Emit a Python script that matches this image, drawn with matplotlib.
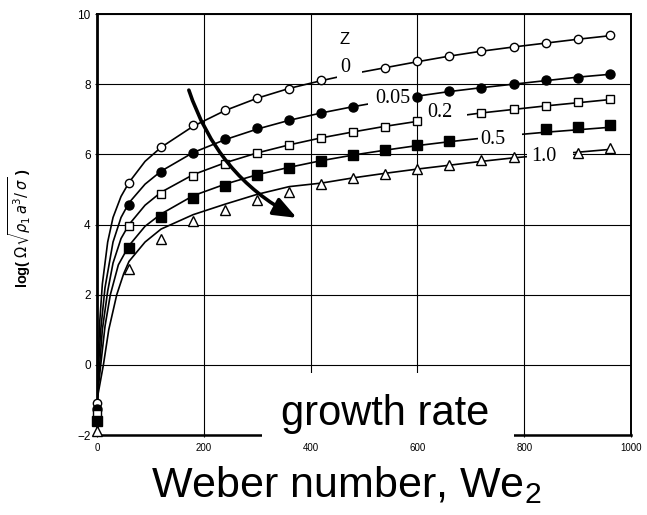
import numpy as np
import matplotlib
matplotlib.use("Agg")
import matplotlib.pyplot as plt
from matplotlib.patches import FancyArrowPatch, Rectangle

plt.rcParams['font.family'] = ['Liberation Sans', 'DejaVu Sans']
plt.rcParams['mathtext.fontset'] = 'custom'
plt.rcParams['mathtext.rm'] = 'Liberation Sans'
plt.rcParams['mathtext.it'] = 'Liberation Sans:italic'

nan = np.nan

# measured points (Weber number vs growth rate), nan = hidden behind a label
we_pts = [0, 60, 120, 180, 240, 300, 360, 420, 480, 540, 600, 660, 720, 780, 840, 900, 960]
z0_pts = [-1.1, 5.18, 6.21, 6.83, 7.26, 7.60, 7.87, 8.11, nan, 8.47, 8.66, 8.80, 8.95, 9.06, 9.17, 9.28, 9.40]
z005_pts = [-1.25, 4.56, 5.50, 6.03, 6.44, 6.75, 6.98, 7.18, 7.35, nan, 7.64, 7.81, 7.89, 8.00, 8.11, 8.17, 8.29]
z02_pts = [-1.4, 3.96, 4.87, 5.38, 5.73, 6.04, 6.27, 6.47, 6.64, 6.78, 6.95, nan, 7.18, 7.29, 7.38, 7.49, 7.57]
z05_pts = [-1.6, 3.33, 4.22, 4.75, 5.10, 5.41, 5.62, 5.81, 5.98, 6.12, 6.27, 6.38, nan, nan, 6.71, 6.78, 6.84]
z1_pts = [-1.88, 2.73, 3.58, 4.10, 4.41, 4.70, 4.93, 5.16, 5.32, 5.44, 5.58, 5.70, 5.83, 5.93, nan, 6.04, 6.18]

# theory curves
we_upper = [60, 90, 120, 180, 240, 300, 360, 420, 480, 540, 600, 660, 720, 780, 840, 900, 960]

z0_we = [0, 2, 5, 10, 20, 30, 45]
z0_low = [-1.0, 0.0, 1.2, 2.3, 3.5, 4.2, 4.8]
z0_up = [5.2, 5.8, 6.2, 6.8, 7.25, 7.6, 7.88, 8.1, 8.3, 8.47, 8.64, 8.8, 8.94, 9.06, 9.17, 9.28, 9.38]

z005_we = [0, 3, 7, 15, 30, 45]
z005_low = [-1.0, 0.0, 1.0, 2.2, 3.5, 4.2]
z005_up = [4.62, 5.15, 5.52, 6.05, 6.42, 6.72, 6.97, 7.18, 7.36, 7.52, 7.66, 7.79, 7.9, 8.0, 8.1, 8.2, 8.28]

z02_we = [0, 5, 10, 20, 30, 45]
z02_low = [-1.0, 0.0, 1.0, 2.1, 2.9, 3.6]
z02_up = [4.0, 4.55, 4.92, 5.42, 5.76, 6.04, 6.27, 6.47, 6.64, 6.8, 6.94, 7.06, 7.18, 7.28, 7.38, 7.47, 7.56]

z05_we = [0, 7, 15, 25, 40]
z05_low = [-1.0, 0.0, 1.1, 2.0, 2.85]
z05_up = [3.4, 3.95, 4.3, 4.82, 5.15, 5.42, 5.63, 5.82, 5.98, 6.12, 6.25, 6.36, 6.46, 6.55, 6.63, 6.7, 6.77]

z1_we = [0, 12, 22, 37, 50]
z1_low = [-1.0, 0.0, 1.0, 2.0, 2.6]
z1_up = [2.95, 3.5, 3.87, 4.28, 4.58, 4.86, 5.08, 5.18, 5.33, 5.46, 5.58, 5.69, 5.8, 5.9, 5.98, 6.06, 6.14]

z_labels = ['0', '0.05', '0.2', '0.5', '1.0']

fig = plt.figure(figsize=(6.47, 5.15), dpi=100)
ax = fig.add_axes([97 / 647, 1 - 435 / 515, 534 / 647, 421 / 515])

ax.set_xlim(0, 1000)
ax.set_ylim(-2, 10)
ax.set_xticks([0, 200, 400, 600, 800, 1000])
ax.set_yticks([-2, 0, 2, 4, 6, 8, 10])
ax.tick_params(axis='x', labelsize=7, direction='inout', length=3, pad=4)
ax.tick_params(axis='y', labelsize=8.5, direction='inout', length=3, pad=3)
ax.grid(True, color='black', lw=0.8)
ax.set_axisbelow(True)
for side in ['top', 'right']:
    ax.spines[side].set_linewidth(1.4)
ax.spines['left'].set_linewidth(2.0)
ax.spines['bottom'].set_linewidth(1.8)

curves = [
    (z0_we, z0_low, z0_up),
    (z005_we, z005_low, z005_up),
    (z02_we, z02_low, z02_up),
    (z05_we, z05_low, z05_up),
    (z1_we, z1_low, z1_up),
]
for we_low, y_low, y_up in curves:
    ax.plot(list(we_low) + we_upper, list(y_low) + list(y_up), color='black', lw=1.2, zorder=2)

# white gaps in the curves where the Z labels sit
gaps = [(449, 496, 8.08, 8.45), (507, 592, 7.35, 7.85), (607, 693, 6.9, 7.3),
        (713, 796, 6.28, 6.65), (805, 891, 5.8, 6.15)]
for x0, x1, y0, y1 in gaps:
    ax.add_patch(Rectangle((x0, y0), x1 - x0, y1 - y0, facecolor='white',
                           edgecolor='none', zorder=2.5))

mk = dict(color='black', ls='none', clip_on=False, zorder=3, markeredgewidth=1.0)
ax.plot(we_pts, z0_pts, marker='o', ms=6, mfc='white', **mk)
ax.plot(we_pts, z005_pts, marker='o', ms=6.5, mfc='black', **mk)
ax.plot(we_pts, z02_pts, marker='s', ms=6, mfc='white', **mk)
ax.plot(we_pts, z05_pts, marker='s', ms=6.5, mfc='black', **mk)
ax.plot(we_pts, z1_pts, marker='^', ms=6.5, mfc='white', **mk)

label_pos = [(464, 8.47), (554, 7.6), (643, 7.18), (742, 6.43), (837, 5.93)]
for txt, (x, y) in zip(z_labels, label_pos):
    ax.text(x, y, txt, fontsize=14.5, family='Liberation Serif', ha='center', va='center', zorder=4)
ax.text(464, 9.28, 'Z', fontsize=12, ha='center', va='center', zorder=4)

arrow = FancyArrowPatch((172, 7.83), (374, 4.19), connectionstyle='arc3,rad=0.2',
                        arrowstyle='-|>,head_length=1.4,head_width=0.55', mutation_scale=10,
                        lw=2.6, color='black', shrinkA=0, shrinkB=0, zorder=5)
ax.add_patch(arrow)

ax.set_ylabel(r'log( $\Omega\sqrt{\rho_1\,a^3/\,\sigma}$ )', fontsize=10.5, fontweight='bold',
              math_fontfamily='dejavusans')
ax.yaxis.set_label_coords(-0.12, 0.49)

# white box with "growth rate" over the lower axis
fig.add_artist(Rectangle((262 / 647, 1 - 440 / 515), 252 / 647, 67 / 515,
                         transform=fig.transFigure, facecolor='white', edgecolor='none', zorder=10))
fig.text(385 / 647, 1 - 425 / 515, 'growth rate', fontsize=30, ha='center', va='baseline', zorder=11)

fig.text(346 / 647, 1 - 497 / 515, 'Weber number, We$_2$', fontsize=31, ha='center', va='baseline')

fig.savefig('out.png', dpi=100)
